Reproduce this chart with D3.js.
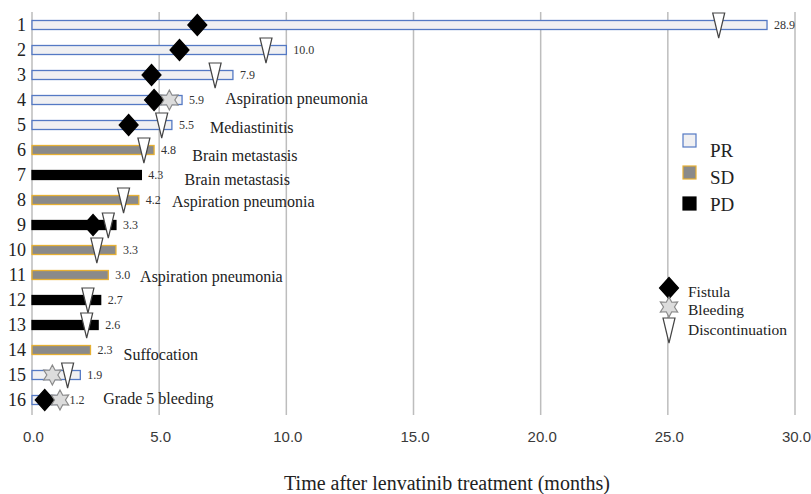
<!DOCTYPE html>
<html>
<head>
<meta charset="utf-8">
<script src="https://cdn.jsdelivr.net/npm/d3@7"></script>
<style>
  body { margin: 0; background: #fff; }
</style>
</head>
<body>
<svg id="chart" width="811" height="494"></svg>
<script>
// patients 1..16
var patients = d3.range(1, 17);
var durations = [28.9, 10.0, 7.9, 5.9, 5.5, 4.8, 4.3, 4.2, 3.3, 3.3, 3.0, 2.7, 2.6, 2.3, 1.9, 1.2];
var responses = ['PR','PR','PR','PR','PR','SD','PD','SD','PD','SD','SD','PD','PD','SD','PR','PR'];
var fistula = [6.5, 5.8, 4.7, 4.8, 3.8, null, null, null, 2.4, null, null, null, null, null, null, 0.5];
var bleeding = [null, null, null, 5.4, null, null, null, null, null, null, null, null, null, null, 0.8, 1.1];
var discontinuation = [27.0, 9.2, 7.2, null, 5.1, 4.4, null, 3.6, 3.0, 2.55, null, 2.2, 2.15, null, 1.4, null];
var causes = [null, null, null, 'Aspiration pneumonia', 'Mediastinitis', 'Brain metastasis', 'Brain metastasis',
  'Aspiration pneumonia', null, null, 'Aspiration pneumonia', null, null, 'Suffocation', null, 'Grade 5 bleeding'];
var xTicks = [0, 5, 10, 15, 20, 25, 30];
var responseTypes = ['PR', 'SD', 'PD'];
var eventTypes = ['Fistula', 'Bleeding', 'Discontinuation'];

// where the cause text sits (months, px below row centre)
var causeX = [0, 0, 0, 7.6, 7.0, 6.3, 6.0, 5.5, 0, 0, 4.25, 0, 0, 3.6, 0, 2.8];
var causeDy = [0, 0, 0, 4, 8, 11, 10, 7, 0, 0, 7, 0, 0, 10, 0, 4];

var SERIF = '"Liberation Serif", "Times New Roman", serif';

var styles = {
  PR: { fill: '#f0f0f2', stroke: '#5479c4' },
  SD: { fill: '#8a8a8a', stroke: '#e6b034' },
  PD: { fill: '#000', stroke: '#000' }
};

var svg = d3.select('#chart');
var x = d3.scaleLinear().domain([0, 30]).range([32, 795]);
var y = d3.scalePoint().domain(patients).range([25, 400]);
var barH = 9;

// grid
svg.append('g').selectAll('line').data(xTicks).enter().append('line')
  .attr('x1', function(d){ return x(d); })
  .attr('x2', function(d){ return x(d); })
  .attr('y1', 12).attr('y2', 415)
  .style('stroke', '#bdbdbd').style('stroke-width', 1.5);

// tick labels
var axis = d3.axisBottom(x).tickValues(xTicks).tickFormat(d3.format('.1f')).tickSize(0);
var ag = svg.append('g').attr('transform', 'translate(1,428)').call(axis);
ag.select('.domain').remove();
ag.selectAll('text')
  .style('font-family', '"Liberation Sans", Arial, sans-serif')
  .style('font-size', '15px').style('fill', '#3a3a3a');

svg.append('text').attr('x', 447).attr('y', 490).attr('text-anchor', 'middle')
  .style('font-family', SERIF)
  .style('font-size', '20px').style('fill', '#222')
  .text('Time after lenvatinib treatment (months)');

// row numbers
svg.append('g').selectAll('text').data(patients).enter().append('text')
  .attr('x', 26).attr('y', function(d){ return y(d) + 6; })
  .attr('text-anchor', 'end')
  .style('font-family', SERIF)
  .style('font-size', '18px').style('fill', '#222')
  .text(function(d){ return d; });

// bars
svg.append('g').selectAll('rect').data(patients).enter().append('rect')
  .attr('x', x(0))
  .attr('y', function(d){ return y(d) - barH / 2; })
  .attr('width', function(d, i){ return x(durations[i]) - x(0); })
  .attr('height', barH)
  .style('fill', function(d, i){ return styles[responses[i]].fill; })
  .style('stroke', function(d, i){ return styles[responses[i]].stroke; })
  .style('stroke-width', 1.3);

// value labels
svg.append('g').selectAll('text').data(patients).enter().append('text')
  .attr('x', function(d, i){ return x(durations[i]) + 7; })
  .attr('y', function(d){ return y(d) + 4; })
  .style('font-family', SERIF)
  .style('font-size', '12px').style('fill', '#333')
  .text(function(d, i){ return durations[i].toFixed(1); });

// cause labels
svg.append('g').selectAll('text').data(patients.filter(function(d, i){ return causes[i]; })).enter().append('text')
  .attr('x', function(d){ return x(causeX[d - 1]); })
  .attr('y', function(d){ return y(d) + causeDy[d - 1]; })
  .style('font-family', SERIF)
  .style('font-size', '16px').style('fill', '#222')
  .text(function(d){ return causes[d - 1]; });

function diamondPath(){ return 'M0,-10.5 L9.5,0 L0,10.5 L-9.5,0 Z'; }
function starPath(){
  var pts = [];
  for (var k = 0; k < 12; k++) {
    var r = k % 2 === 0 ? 10 : 5.5;
    var a = -Math.PI / 2 + k * Math.PI / 6;
    pts.push([r * Math.cos(a), r * Math.sin(a)]);
  }
  return 'M' + pts.join('L') + 'Z';
}
function trianglePath(){ return 'M-6,-12 L6,-12 L0,13 Z'; }

var markerStyles = {
  Fistula: { path: diamondPath, fill: '#000', stroke: '#000', data: fistula },
  Bleeding: { path: starPath, fill: '#dcdcdc', stroke: '#8a8a8a', data: bleeding },
  Discontinuation: { path: trianglePath, fill: '#fff', stroke: '#444', data: discontinuation }
};

// discontinuation drawn first, then fistula, then bleeding
['Discontinuation', 'Fistula', 'Bleeding'].forEach(function(type){
  var m = markerStyles[type];
  svg.append('g').selectAll('path').data(patients.filter(function(d, i){ return m.data[i] != null; }))
    .enter().append('path')
    .attr('transform', function(d){ return 'translate(' + x(m.data[d - 1]) + ',' + y(d) + ')'; })
    .attr('d', m.path())
    .style('fill', m.fill).style('stroke', m.stroke).style('stroke-width', 1.2);
});

// response legend
var lg = svg.append('g');
var swatchY = [134, 166, 197];
var labelY = [157, 184, 211];
responseTypes.forEach(function(t, i){
  lg.append('rect').attr('x', 683).attr('y', swatchY[i]).attr('width', 13).attr('height', 13)
    .style('fill', styles[t].fill).style('stroke', styles[t].stroke).style('stroke-width', 1.2);
  lg.append('text').attr('x', 710).attr('y', labelY[i])
    .style('font-family', SERIF)
    .style('font-size', '19px').style('fill', '#222').text(t);
});

// event legend
var eg = svg.append('g');
var eventY = [288, 307, 330];
var textY = [297, 315, 335];
eventTypes.forEach(function(t, i){
  var m = markerStyles[t];
  eg.append('path').attr('transform', 'translate(669,' + eventY[i] + ')')
    .attr('d', m.path()).style('fill', m.fill).style('stroke', m.stroke).style('stroke-width', 1.2);
  eg.append('text').attr('x', 688).attr('y', textY[i])
    .style('font-family', SERIF)
    .style('font-size', '15.5px').style('fill', '#222').text(t);
});
</script>
</body>
</html>
